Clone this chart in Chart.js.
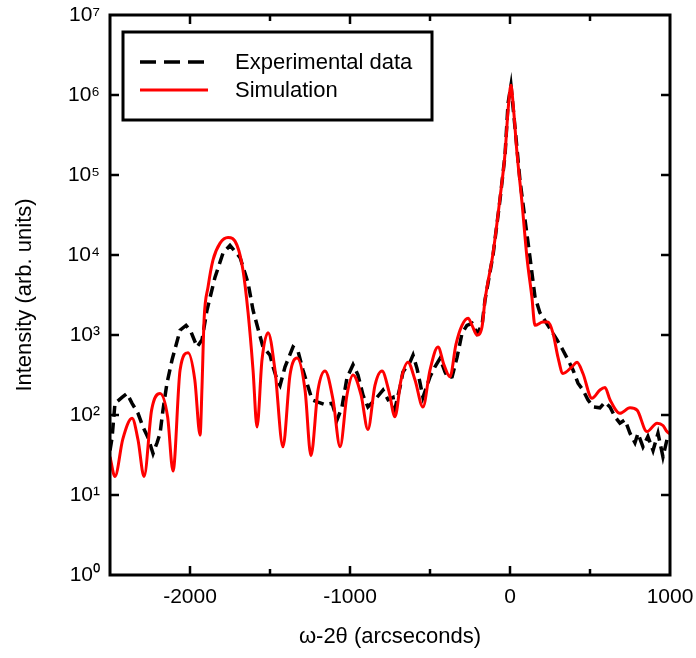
<!DOCTYPE html>
<html>
<head>
<meta charset="utf-8">
<script src="https://cdn.jsdelivr.net/npm/chart.js@4.4.0/dist/chart.umd.min.js"></script>
<style>
  html, body { margin: 0; padding: 0; background: #fff; }
</style>
</head>
<body>
<canvas id="chart" width="696" height="658"></canvas>
<script>
// omega-2theta scan
const expX = [-2500, -2487, -2469, -2425, -2394, -2362, -2325, -2294, -2262, -2231, -2206, -2187, -2169, -2144, -2112,
  -2062, -2025, -1994, -1956, -1925, -1894, -1844, -1794, -1750, -1687, -1637, -1606, -1544, -1500, -1481, -1456,
  -1437, -1406, -1356, -1325, -1294, -1262, -1237, -1200, -1156, -1112, -1081, -1050, -1019, -981, -950, -919,
  -888, -844, -794, -762, -731, -719, -687, -669, -625, -606, -581, -562, -544, -500, -469, -437, -406, -387,
  -362, -331, -300, -269, -237, -206, -175, -156, -106, -62, -31, -12, 6, 31, 62, 94, 125, 156, 187, 237, 294,
  331, 362, 394, 425, 456, 487, 519, 562, 594, 625, 656, 687, 719, 750, 781, 800, 831, 862, 894, 925, 956, 981, 1000];
const expY = [36, 52, 140, 166, 186, 140, 105, 71, 52, 33, 45, 59, 115, 250, 490,
  1150, 1320, 1100, 710, 870, 2040, 5250, 10500, 13200, 9300, 4470, 2040, 710, 560, 400, 275,
  235, 400, 710, 630, 365, 225, 155, 145, 135, 140, 87, 126, 290, 425, 316, 178,
  126, 155, 205, 155, 166, 120, 225, 345, 457, 560, 380, 250, 166, 300, 400, 510, 345, 290,
  300, 525, 1050, 1320, 1400, 1050, 1320, 2750, 10000, 50000, 178000, 790000, 1320000, 400000, 87000, 27500, 9300, 3000, 1900, 1320, 870,
  645, 490, 365, 250, 205, 155, 126, 123, 145, 126, 95, 79, 87, 59, 45, 59, 40, 54, 36, 59, 30, 49, 45];

const simX = [-2500, -2469, -2420, -2362, -2325, -2287, -2240, -2187, -2140, -2106, -2062, -2012, -1970, -1937,
  -1925, -1912, -1887, -1856, -1812, -1762, -1706, -1669, -1637, -1606, -1581, -1550, -1512, -1469, -1419, -1375,
  -1331, -1281, -1244, -1200, -1156, -1106, -1062, -1019, -981, -931, -888, -844, -800, -756, -719, -681, -638,
  -594, -544, -500, -450, -412, -375, -338, -300, -262, -237, -206, -175, -156, -106, -62, -31, -12, 6, 19, 44,
  75, 106, 137, 156, 206, 237, 269, 300, 331, 387, 419, 456, 512, 562, 594, 625, 687, 750, 794, 856, 919, 956, 981, 1000];
const simY = [30, 17, 50, 91, 49, 17, 115, 186, 95, 20, 365, 600, 275, 56,
  224, 1550, 4000, 8700, 14100, 16600, 13200, 6500, 1900, 365, 71, 490, 1070, 365, 40, 316,
  515, 205, 31, 205, 355, 155, 40, 178, 316, 178, 66, 235, 355, 195, 95, 275, 457,
  275, 126, 365, 708, 420, 300, 760, 1320, 1620, 1320, 1000, 1260, 2750, 10500, 52500, 186000, 650000, 1320000, 790000, 186000,
  45000, 9300, 2950, 1320, 1450, 1450, 1050, 525, 330, 400, 457, 330, 162, 205, 220, 155, 105, 123, 115, 62, 79, 74, 62, 58];

const seriesNames = ["Experimental data", "Simulation"];
const decades = [0, 1, 2, 3, 4, 5, 6, 7];
const supDigits = ["\u2070", "\u00b9", "\u00b2", "\u00b3", "\u2074", "\u2075", "\u2076", "\u2077"];

const FONT = "'Liberation Sans', Arial, sans-serif";
Chart.defaults.font.family = FONT;
Chart.defaults.font.size = 21;
Chart.defaults.color = "#000";

// frame, inward ticks on all four sides, boxed legend
const framePlugin = {
  id: "frame",
  afterDatasetsDraw(chart) {
    const ctx = chart.ctx;
    const a = chart.chartArea;
    const xs = chart.scales.x, ys = chart.scales.y;
    ctx.save();
    ctx.strokeStyle = "#000";
    ctx.lineWidth = 3;
    ctx.strokeRect(a.left, a.top, a.right - a.left, a.bottom - a.top);

    ctx.lineWidth = 2.5;
    ctx.beginPath();
    xs.ticks.forEach(t => {
      const px = xs.getPixelForValue(t.value);
      if (px <= a.left + 2 || px >= a.right - 2) return;
      const len = t.value % 1000 === 0 ? 9 : 6;
      ctx.moveTo(px, a.bottom); ctx.lineTo(px, a.bottom - len);
      ctx.moveTo(px, a.top); ctx.lineTo(px, a.top + len);
    });
    ys.ticks.forEach(t => {
      const py = ys.getPixelForValue(t.value);
      if (py <= a.top + 2 || py >= a.bottom - 2) return;
      ctx.moveTo(a.left, py); ctx.lineTo(a.left + 9, py);
      ctx.moveTo(a.right, py); ctx.lineTo(a.right - 9, py);
    });
    ctx.stroke();

    // legend box
    const bx = a.left + 13, by = a.top + 17, bw = 309, bh = 88;
    ctx.fillStyle = "#fff";
    ctx.fillRect(bx, by, bw, bh);
    ctx.lineWidth = 3;
    ctx.strokeRect(bx, by, bw, bh);
    const rows = [by + 30, by + 58];
    chart.data.datasets.forEach((ds, i) => {
      ctx.beginPath();
      ctx.strokeStyle = ds.borderColor;
      ctx.lineWidth = ds.borderWidth;
      ctx.setLineDash(i === 0 ? [16, 8] : []);
      ctx.moveTo(bx + 17, rows[i]);
      ctx.lineTo(bx + 85, rows[i]);
      ctx.stroke();
      ctx.setLineDash([]);
      ctx.fillStyle = "#000";
      ctx.font = "22px " + FONT;
      ctx.textBaseline = "middle";
      ctx.textAlign = "left";
      ctx.fillText(ds.label, bx + 112, rows[i] + 1);
    });
    ctx.restore();
  }
};

const ctx = document.getElementById("chart").getContext("2d");
new Chart(ctx, {
  type: "line",
  data: {
    datasets: [
      {
        label: seriesNames[0],
        data: expX.map((x, i) => ({ x, y: expY[i] })),
        borderColor: "#000",
        borderWidth: 3.5,
        borderDash: [11, 6],
        pointRadius: 0,
        tension: 0,
        order: 1
      },
      {
        label: seriesNames[1],
        data: simX.map((x, i) => ({ x, y: simY[i] })),
        borderColor: "#ff0000",
        borderWidth: 3,
        pointRadius: 0,
        cubicInterpolationMode: "monotone",
        order: 0
      }
    ]
  },
  options: {
    responsive: false,
    animation: false,
    layout: { padding: { top: 15, right: 26, left: 0, bottom: 0 } },
    plugins: {
      legend: { display: false },
      tooltip: { enabled: false }
    },
    scales: {
      x: {
        type: "linear",
        min: -2500,
        max: 1000,
        grid: { display: false, drawTicks: false },
        border: { display: false },
        ticks: {
          stepSize: 500,
          padding: 10,
          maxRotation: 0,
          autoSkip: false,
          callback: v => (v % 1000 === 0 ? String(v) : "")
        },
        title: {
          display: true,
          text: "\u03c9-2\u03b8 (arcseconds)",
          font: { size: 22 },
          padding: { top: 0, bottom: 8 }
        },
        afterFit: s => { s.height = 83; s.paddingLeft = 0; s.paddingRight = 0; }
      },
      y: {
        type: "logarithmic",
        min: 1,
        max: 1e7,
        grid: { display: false, drawTicks: false },
        border: { display: false },
        afterBuildTicks: s => { s.ticks = decades.map(e => ({ value: Math.pow(10, e) })); },
        ticks: {
          padding: 10,
          autoSkip: false,
          callback: v => "10" + supDigits[Math.round(Math.log10(v))]
        },
        title: {
          display: true,
          text: "Intensity (arb. units)",
          font: { size: 22 },
          padding: { top: 12, bottom: 0 }
        },
        afterFit: s => { s.width = 110; s.paddingTop = 0; s.paddingBottom = 0; }
      }
    }
  },
  plugins: [framePlugin]
});
</script>
</body>
</html>
